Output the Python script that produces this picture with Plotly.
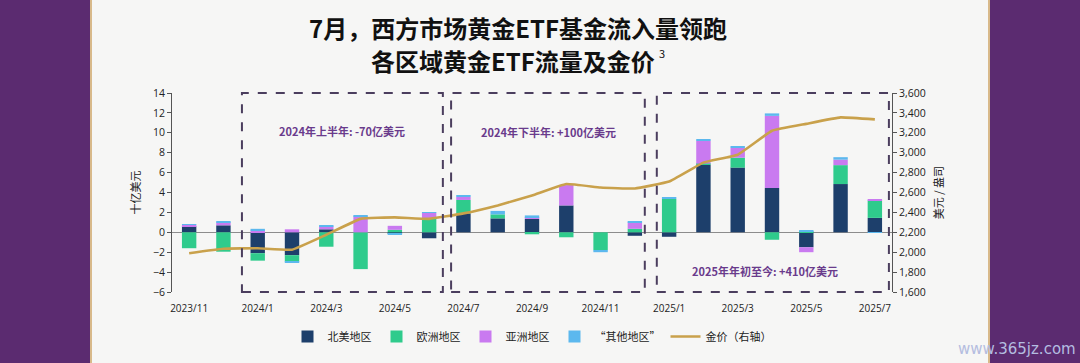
import plotly.graph_objects as go

months = ["2023/11", "2023/12", "2024/1", "2024/2", "2024/3", "2024/4", "2024/5", "2024/6",
          "2024/7", "2024/8", "2024/9", "2024/10", "2024/11", "2024/12",
          "2025/1", "2025/2", "2025/3", "2025/4", "2025/5", "2025/6", "2025/7"]
north_america = [0.6, 0.7, -2.1, -2.3, 0.3, 0.0, -0.15, -0.6, 1.9, 1.4, 1.35, 2.7, 0.0, -0.35,
                 -0.45, 6.8, 6.5, 4.45, -1.5, 4.85, 1.45]
europe = [-1.6, -1.95, -0.75, -0.65, -1.45, -3.7, 0.25, 1.4, 1.35, 0.4, -0.2, -0.5, -1.8, 0.35,
          3.35, 0.1, 1.0, -0.75, 0.1, 1.9, 1.75]
asia = [0.15, 0.3, 0.2, 0.3, 0.3, 1.6, 0.4, 0.55, 0.3, 0.0, 0.15, 2.05, 0.0, 0.65,
        0.0, 2.3, 1.0, 7.25, -0.5, 0.55, 0.15]
other = [0.05, 0.05, 0.15, -0.1, 0.05, 0.05, -0.05, 0.05, 0.1, 0.35, 0.2, 0.0, -0.2, 0.1,
         0.15, 0.15, 0.1, 0.25, 0.1, 0.25, -0.05]
gold = [1990, 2035, 2040, 2025, 2175, 2335, 2350, 2335, 2390, 2470, 2570, 2685, 2650, 2640,
        2710, 2900, 2980, 3220, 3290, 3355, 3335]

series_names = ["北美地区", "欧洲地区", "亚洲地区", "“其他地区”"]
gold_name = "金价（右轴）"
title_lines = ["<b>7月，西方市场黄金ETF基金流入量领跑</b>",
               "<b>各区域黄金ETF流量及金价</b>"]
title_note = "3"
box_labels = ["2024年上半年: -70亿美元", "2024年下半年: +100亿美元", "2025年年初至今: +410亿美元"]
left_ticks = list(range(-6, 15, 2))
right_ticks = list(range(1600, 3601, 200))

colors = ["#1d3f6b", "#2fcb8c", "#c97af0", "#5cb8ee"]
gold_color = "#c9a14b"
box_color = "#4b3e5e"
font_main = "Open Sans, Noto Sans CJK SC, sans-serif"
font_cjk = "Noto Sans CJK SC, sans-serif"

fig = go.Figure()
for name, vals, col in zip(series_names, [north_america, europe, asia, other], colors):
    fig.add_trace(go.Bar(x=months, y=vals, name=name, marker=dict(color=col, line=dict(width=0)),
                         width=0.42))
fig.add_trace(go.Scatter(x=months, y=gold, name=gold_name, yaxis="y2", mode="lines",
                         line=dict(color=gold_color, width=2.6, shape="spline", smoothing=0.3)))

W, H = 1080, 363
L, R, T, B = 172, 188, 93, 69
PW, PH = W - L - R, H - T - B


def px_x(px):
    return (px - L) / PW


def px_y(py):
    return (H - B - py) / PH


shapes = [
    dict(type="rect", xref="paper", yref="paper", layer="below",
         x0=px_x(91), x1=px_x(989), y0=px_y(H + 5), y1=px_y(-5),
         fillcolor="#f6f6f5", line=dict(color="#d8b98a", width=2)),
]
box_ranges = [(1.54, 7.40), (7.64, 13.29), (13.64, 20.41)]
for x0, x1 in box_ranges:
    shapes.append(dict(type="rect", xref="x", yref="paper", x0=x0, x1=x1, y0=0, y1=1,
                       line=dict(color=box_color, width=2, dash="dash"), fillcolor="rgba(0,0,0,0)"))

annotations = [
    dict(text=title_lines[0], xref="paper", yref="paper", x=px_x(518),
         y=px_y(27), showarrow=False, xanchor="center", yanchor="middle",
         font=dict(family=font_cjk, size=24, color="#111111")),
    dict(text=title_lines[1], xref="paper", yref="paper", x=px_x(513),
         y=px_y(60), showarrow=False, xanchor="center", yanchor="middle",
         font=dict(family=font_cjk, size=24, color="#111111")),
    dict(text=title_note, xref="paper", yref="paper", x=px_x(657),
         y=px_y(53), showarrow=False, xanchor="left", yanchor="middle",
         font=dict(family=font_cjk, size=11, color="#111111")),
    dict(text="<b>" + box_labels[0] + "</b>", xref="x", yref="y", x=4.47, y=10.2, showarrow=False,
         font=dict(family=font_cjk, size=11, color="#6a3b8c")),
    dict(text="<b>" + box_labels[1] + "</b>", xref="x", yref="y", x=10.47, y=10.1, showarrow=False,
         font=dict(family=font_cjk, size=11, color="#6a3b8c")),
    dict(text="<b>" + box_labels[2] + "</b>", xref="x", yref="y", x=16.8, y=-3.85, showarrow=False,
         font=dict(family=font_cjk, size=11, color="#6a3b8c")),
    dict(text="www.365jz.com", xref="paper", yref="paper", x=px_x(1078),
         y=px_y(352), xanchor="right", yanchor="middle", showarrow=False,
         font=dict(family="DejaVu Sans, sans-serif", size=15, color="#b4bde0")),
]

fig.update_layout(
    width=W, height=H, autosize=False,
    margin=dict(l=L, r=R, t=T, b=B, pad=0),
    paper_bgcolor="#5b2b70", plot_bgcolor="rgba(0,0,0,0)",
    barmode="relative", bargap=0.58,
    font=dict(family=font_main, size=10, color="#222222"),
    showlegend=True,
    legend=dict(orientation="h", x=0.5, xanchor="center", y=px_y(339), yanchor="middle",
                font=dict(family=font_cjk, size=11, color="#222222"), bgcolor="rgba(0,0,0,0)",
                traceorder="normal", itemwidth=30),
    xaxis=dict(type="category", tickvals=months[::2], ticktext=months[::2], showgrid=False,
               showline=False, ticks="outside", ticklen=7, tickcolor="rgba(0,0,0,0)",
               tickfont=dict(size=10, color="#222222"),
               range=[-0.5, len(months) - 0.5]),
    yaxis=dict(range=[-6, 14], tickvals=left_ticks, showgrid=False, zeroline=True,
               zerolinecolor="#8c8c8c", zerolinewidth=1, showline=True, linecolor="#555555",
               linewidth=1, ticks="outside", ticklen=4, tickcolor="#555555",
               title=dict(text="十亿美元", font=dict(family=font_cjk, size=11), standoff=10),
               tickfont=dict(size=10.5, color="#222222")),
    yaxis2=dict(range=[1600, 3600], tickvals=right_ticks, tickformat=",", overlaying="y",
                side="right", showgrid=False, zeroline=False, showline=True,
                linecolor="#555555", linewidth=1, ticks="outside", ticklen=4, tickcolor="#555555",
                title=dict(text="美元 / 盎司", font=dict(family=font_cjk, size=11), standoff=10),
                tickfont=dict(size=10.5, color="#222222")),
    shapes=shapes,
    annotations=annotations,
)

fig.write_html("out.html", config={"displayModeBar": False},
               post_script="document.body.style.margin='0';document.body.style.overflow='hidden';")
